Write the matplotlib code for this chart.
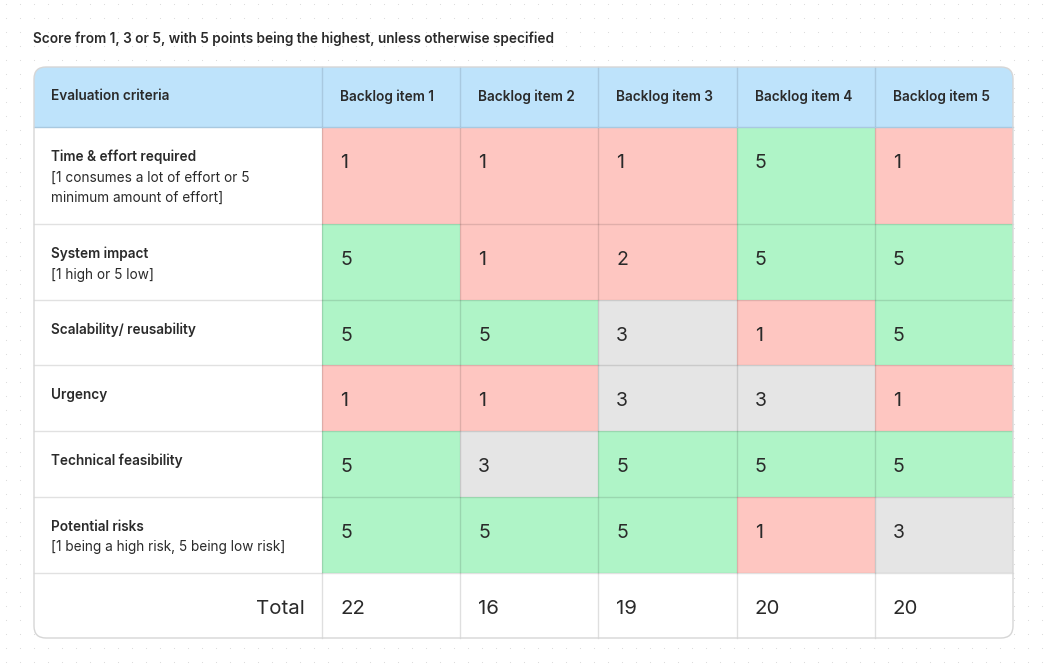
import matplotlib
matplotlib.use("Agg")
import matplotlib.pyplot as plt
from matplotlib.patches import Rectangle, FancyBboxPatch
import numpy as np

plt.rcParams['font.family'] = ['Inter', 'DejaVu Sans']

title = "Score from 1, 3 or 5, with 5 points being the highest, unless otherwise specified"
header_first = "Evaluation criteria"
items = ["Backlog item 1", "Backlog item 2", "Backlog item 3", "Backlog item 4", "Backlog item 5"]
criteria = ["Time & effort required", "System impact", "Scalability/ reusability",
            "Urgency", "Technical feasibility", "Potential risks"]
criteria_notes = [["[1 consumes a lot of effort or 5", "minimum amount of effort]"],
                  ["[1 high or 5 low]"], [], [], [],
                  ["[1 being a high risk, 5 being low risk]"]]
scores = [
    [1, 1, 1, 5, 1],
    [5, 1, 2, 5, 5],
    [5, 5, 3, 1, 5],
    [1, 1, 3, 3, 1],
    [5, 3, 5, 5, 5],
    [5, 5, 5, 1, 3],
]
totals = [22, 16, 19, 20, 20]
total_label = "Total"

W, H = 1048, 669
fig = plt.figure(figsize=(W / 100, H / 100), dpi=100)
ax = fig.add_axes([0, 0, 1, 1])
ax.set_xlim(0, W)
ax.set_ylim(H, 0)
ax.axis('off')
fig.patch.set_facecolor('white')

# dotted background
xs = np.arange(6, W, 14)
ys = np.arange(4, H, 14)
gx, gy = np.meshgrid(xs, ys)
ax.scatter(gx.ravel(), gy.ravel(), s=0.6, c='#d8d8d8', marker='o', linewidths=0, zorder=0)

col_edges = [34, 322, 460, 598, 737, 875, 1013]
row_edges = [67, 127, 224, 300, 365, 431, 497, 573, 638]

TXT = '#2a2a2a'
HEAD = '#bee3fb'
RED = '#fec6c1'
GREEN = '#aff4c7'
GREY = '#e5e5e5'


def color_for(v):
    if v >= 5:
        return GREEN
    if v == 3:
        return GREY
    return RED

L, R = col_edges[0], col_edges[-1]
T, B = row_edges[0], row_edges[-1]
clip = FancyBboxPatch((L, T), R - L, B - T, boxstyle="round,pad=0,rounding_size=12",
                      facecolor='white', edgecolor='none', zorder=1)
ax.add_patch(clip)

patches = []
p = Rectangle((L, T), R - L, row_edges[1] - T, facecolor=HEAD, edgecolor='none', zorder=2)
patches.append(p)
for i, row in enumerate(scores):
    y0, y1 = row_edges[i + 1], row_edges[i + 2]
    for j, v in enumerate(row):
        x0, x1 = col_edges[j + 1], col_edges[j + 2]
        patches.append(Rectangle((x0, y0), x1 - x0, y1 - y0, facecolor=color_for(v),
                                 edgecolor='none', zorder=2))
for p in patches:
    ax.add_patch(p)
    p.set_clip_path(clip)

# grid lines
for x in col_edges[1:-1]:
    ax.plot([x, x], [T, row_edges[1]], color='#a9c9e0', lw=1, zorder=3)
    ax.plot([x, x], [row_edges[1], B], color='#00000020', lw=1, zorder=3)
for y in row_edges[1:-1]:
    c = '#a9c9e0' if y == row_edges[1] else '#0000001e'
    ax.plot([L, R], [y, y], color=c, lw=1, zorder=3)

outline = FancyBboxPatch((L, T), R - L, B - T, boxstyle="round,pad=0,rounding_size=12",
                         facecolor='none', edgecolor='#d6d6d6', lw=1, zorder=4)
ax.add_patch(outline)

# texts
FS = 9.8
ax.text(33, 38.5, title, fontsize=FS, fontweight='semibold', color=TXT, va='center', ha='left')
hy = (row_edges[0] + row_edges[1]) / 2 - 0.5
ax.text(L + 17, hy, header_first, fontsize=FS, fontweight='semibold', color=TXT, va='center')
for j, it in enumerate(items):
    ax.text(col_edges[j + 1] + 18, hy, it, fontsize=FS, fontweight='semibold', color=TXT, va='center')

for i, name in enumerate(criteria):
    y0 = row_edges[i + 1]
    ax.text(L + 17, y0 + 30, name, fontsize=FS, fontweight='semibold', color=TXT, va='center')
    for k, note in enumerate(criteria_notes[i]):
        ax.text(L + 17, y0 + 50.5 + k * 20.5, note, fontsize=FS, color=TXT, va='center')
    for j, v in enumerate(scores[i]):
        ax.text(col_edges[j + 1] + 18, y0 + 36, str(v), fontsize=14, color=TXT, va='center')

ty = row_edges[-2] + 36
ax.text(col_edges[1] - 17, ty, total_label, fontsize=14.7, color=TXT, va='center', ha='right')
for j, t in enumerate(totals):
    ax.text(col_edges[j + 1] + 18, ty, str(t), fontsize=14.7, color=TXT, va='center')

fig.savefig('out.png', dpi=100, facecolor='white')
